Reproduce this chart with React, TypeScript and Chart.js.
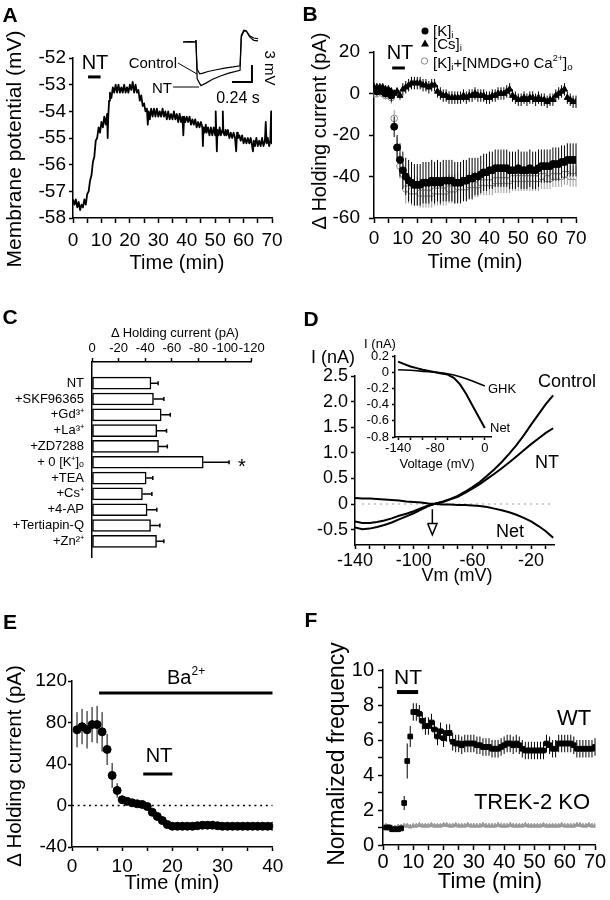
import React, { useEffect, useRef } from "react";
import { Chart, registerables } from "chart.js";

Chart.register(...registerables);

const FONT = "'Liberation Sans', Arial, Helvetica, sans-serif";
Chart.defaults.font.family = FONT;
Chart.defaults.color = "#000";

// ================= DATA =================
// Panel A: membrane potential trace [min, mV]
const aTrace: number[][] = [
  [0,-57.3],[0.5,-57.5],[1,-57.3],[1.5,-57.6],[2,-57.4],[2.5,-57.7],[3,-57.5],[3.5,-57.6],[4,-57.3],[4.5,-57.5],
  [5,-57.1],[5.5,-57.0],[6,-56.6],[6.5,-56.4],[7,-55.9],[7.5,-55.7],[8,-55.1],[8.5,-55.0],[9,-54.6],[9.5,-54.8],
  [10,-54.4],[10.5,-54.6],[11,-54.2],[11.5,-54.5],[12,-54.1],[12.2,-55.0],[12.4,-54.2],[12.7,-53.6],[13,-53.3],[13.5,-53.5],
  [14,-53.1],[14.5,-53.3],[15,-53.0],[15.5,-53.3],[16,-53.0],[16.5,-53.3],[17,-53.1],[17.5,-53.3],[18,-53.0],[18.5,-53.3],
  [19,-53.1],[19.5,-53.3],[20,-53.0],[20.5,-53.2],[21,-52.9],[21.5,-53.3],[22,-53.0],[22.5,-53.3],[23,-53.2],[23.5,-53.6],
  [24,-53.4],[24.5,-53.8],[25,-53.7],[25.5,-54.0],[26,-53.9],[26.3,-54.5],[26.6,-54.0],[27,-54.3],[27.5,-53.9],[28,-54.2],
  [28.5,-53.9],[29,-54.2],[29.5,-53.9],[30,-54.2],[30.5,-54.0],[31,-54.2],[31.5,-53.9],[32,-54.2],[32.5,-54.0],[33,-54.3],
  [33.5,-54.0],[34,-54.3],[34.5,-54.1],[35,-54.3],[35.5,-54.0],[36,-54.3],[36.5,-54.1],[37,-54.4],[37.5,-54.1],[38,-54.4],
  [38.5,-54.2],[38.8,-54.9],[39.1,-54.2],[39.5,-54.4],[40,-54.2],[40.5,-54.4],[41,-54.2],[41.5,-54.5],[42,-54.3],[42.5,-54.5],
  [43,-54.3],[43.5,-54.6],[44,-54.4],[44.5,-54.6],[45,-54.4],[45.5,-54.6],[45.7,-55.3],[45.9,-54.6],[46.3,-54.8],[46.7,-54.5],
  [47,-54.8],[47.5,-54.6],[48,-54.9],[48.5,-54.6],[49,-54.9],[49.5,-54.6],[50,-54.9],[50.2,-54.0],[50.4,-54.8],[50.6,-55.5],
  [50.8,-54.7],[51.2,-54.9],[51.6,-54.6],[52,-54.9],[52.5,-54.7],[52.7,-54.0],[52.9,-54.8],[53.3,-54.9],[53.7,-54.7],[54,-54.9],
  [54.5,-54.7],[55,-55.0],[55.5,-54.8],[56,-55.0],[56.5,-54.8],[57,-55.0],[57.4,-55.5],[57.7,-54.8],[58,-55.0],[58.5,-54.9],
  [59,-55.1],[59.5,-54.9],[60,-55.2],[60.5,-55.0],[61,-55.2],[61.5,-55.0],[62,-55.2],[62.5,-55.0],[63,-55.3],[63.3,-55.5],
  [63.6,-55.1],[64,-55.3],[64.5,-55.0],[65,-55.3],[65.5,-55.1],[66,-55.3],[66.5,-55.0],[67,-55.3],[67.5,-55.1],[67.8,-54.4],
  [68.1,-55.2],[68.5,-55.0],[69,-55.3],[69.4,-55.1],[69.7,-54.0],[69.9,-55.2],[70,-55.1],
];
const aNtBar: number[][] = [[5.3, -52.71], [9.7, -52.71]];
const aYTicks = [-58, -57, -56, -55, -54, -53, -52];
const time70Ticks = [0, 5, 10, 15, 20, 25, 30, 35, 40, 45, 50, 55, 60, 65, 70];
const time70Labels = [0, 10, 20, 30, 40, 50, 60, 70];
// Panel A inset traces [s, mV]
const aInsetControl: number[][] = [
  [0,0],[0.08,0.05],[0.145,0],[0.155,0.35],[0.17,-4.8],[0.2,-5.6],[0.24,-5.5],[0.3,-5.2],[0.4,-4.9],[0.5,-4.6],
  [0.6,-4.4],[0.685,-4.2],[0.7,1.2],[0.73,2.1],[0.76,2.0],[0.8,1.1],[0.85,0.7],[0.9,0.6],
];
const aInsetNT: number[][] = [
  [0,0],[0.08,0.05],[0.145,0],[0.155,0.35],[0.17,-6.5],[0.215,-7.7],[0.27,-7.3],[0.35,-6.6],[0.45,-6.0],[0.55,-5.5],
  [0.685,-5.0],[0.7,0.9],[0.73,1.9],[0.76,1.9],[0.8,0.9],[0.85,0.3],[0.9,0.2],
];
const aScaleBar: number[][] = [[0.588, -7.05], [0.828, -7.05], [0.828, -4.05]]; // 0.24 s, 3 mV

// Panel B
const bTime = [0,1,2,3,4,5,6,7,8,9,10,11,12,13,14,15,16,17,18,19,20,21,22,23,24,25,26,27,28,29,30,31,32,33,34,35,36,37,38,39,40,41,42,43,44,45,46,47,48,49,50,51,52,53,54,55,56,57,58,59,60,61,62,63,64,65,66,67,68,69,70];
const bK = [2,1,2,1,0,1,-1,-16,-26,-32,-37,-40,-42,-43,-44,-44,-44,-43,-43,-43,-42,-43,-42,-43,-42,-42,-42,-42,-43,-43,-43,-42,-42,-41,-41,-40,-40,-39,-38,-38,-37,-37,-36,-36,-36,-36,-36,-37,-37,-37,-36,-37,-37,-37,-36,-37,-37,-36,-35,-35,-35,-35,-34,-34,-34,-33,-33,-32,-32,-32,-32];
const bKErr = [2,2,2,2,2,2,3,5,6,8,9,9,10,10,10,10,10,10,10,10,10,10,10,10,10,10,10,10,10,10,10,10,10,10,10,9,9,9,9,9,9,9,9,9,9,9,9,9,9,9,9,9,9,9,9,9,9,9,8,8,8,8,8,8,8,8,8,8,8,8,8];
const bNmdg = [0,0,1,0,-1,0,-2,-12,-26,-35,-39,-46,-46,-47,-47,-47,-48,-48,-48,-48,-48,-47,-47,-47,-47,-47,-46,-46,-46,-45,-45,-45,-45,-44,-44,-44,-44,-43,-43,-43,-43,-43,-42,-42,-42,-42,-42,-42,-41,-41,-41,-41,-41,-41,-41,-41,-41,-41,-40,-40,-41,-41,-40,-40,-40,-40,-39,-39,-40,-40,-40];
const bNmdgErr = [2,2,2,2,2,2,3,4,5,6,7,7,7,7,7,7,7,7,7,7,7,7,7,7,7,7,7,7,7,7,6,6,6,6,6,6,6,6,6,6,6,6,6,6,6,6,6,6,6,6,6,6,6,6,6,6,6,6,6,6,5,5,5,5,5,5,5,5,5,5,5];
const bCs = [3,3,3,3,2,2,1,0,1,-1,2,3,4,5,5,5,5,4,4,3,4,4,1,0,-1,-1,-2,-2,-2,-2,-2,-1,-2,-1,-1,0,-1,-1,-1,-2,-2,-1,-1,0,0,0,1,2,-1,-2,-3,-3,-2,-3,-2,-2,-3,-2,-3,-3,-4,-3,-3,-1,0,1,2,-2,-3,-4,-4];
const bCsErr = [2,2,2,2,2,2,2,2,2,2,3,3,3,3,3,3,3,3,3,3,3,3,3,3,3,3,3,3,3,3,3,3,3,3,3,3,3,3,3,3,3,3,3,3,3,3,3,3,3,3,3,3,3,3,3,3,3,3,3,3,3,3,3,3,3,3,3,3,3,3,3];
const bNtBar: number[][] = [[6.3, 12.3], [10.7, 12.3]];
const bYTicks = [-60, -40, -20, 0, 20];

// Panel C
const cCats = ["NT", "+SKF96365", "+Gd³⁺", "+La³⁺", "+ZD7288", "+ 0 [K⁺]ₒ", "+TEA", "+Cs⁺", "+4-AP", "+Tertiapin-Q", "+Zn²⁺"];
const cVals = [-44.3, -46.2, -52, -48.7, -50, -83.6, -40.7, -37.9, -41.4, -44, -48.5];
const cErrs = [5.4, 7.8, 6.8, 7.3, 6.6, 19.4, 5, 7.1, 7.3, 7, 5.5];
const cTicks = [0, -20, -40, -60, -80, -100, -120];

// Panel D
const dV = [-140,-135,-130,-125,-120,-115,-110,-105,-100,-95,-90,-85,-80,-75,-70,-65,-60,-55,-50,-45,-40,-35,-30,-25,-20,-15,-10,-5];
const dControl = [-0.46,-0.49,-0.48,-0.45,-0.41,-0.36,-0.3,-0.24,-0.18,-0.11,-0.04,0.01,0.05,0.1,0.16,0.24,0.33,0.43,0.55,0.68,0.82,0.98,1.15,1.34,1.55,1.75,1.95,2.12];
const dNT = [-0.34,-0.37,-0.37,-0.35,-0.32,-0.28,-0.23,-0.19,-0.14,-0.08,-0.03,0.01,0.04,0.09,0.14,0.22,0.3,0.39,0.49,0.59,0.7,0.81,0.93,1.05,1.17,1.28,1.39,1.48];
const dNet = [0.12,0.11,0.11,0.1,0.09,0.08,0.07,0.05,0.04,0.03,0.01,0,-0.01,-0.01,-0.02,-0.02,-0.03,-0.04,-0.06,-0.09,-0.12,-0.16,-0.21,-0.27,-0.34,-0.43,-0.53,-0.66];
const dZero: number[][] = [[-135, 0], [-5, 0]];
const dArrowShaft: number[][] = [[-87.3, -0.1], [-87.3, -0.38]];
const dArrowHead: number[][] = [[-90.5, -0.38], [-84.1, -0.38], [-87.3, -0.6], [-90.5, -0.38]];
const dXTicks = [-140,-130,-120,-110,-100,-90,-80,-70,-60,-50,-40,-30,-20,-10];
const dXLabels = [-140, -100, -60, -20];
const dYTicks = [-0.5, 0, 0.5, 1, 1.5, 2, 2.5];
// Panel D inset
const diV = [-140,-130,-120,-110,-100,-90,-80,-70,-60,-50,-40,-30,-20,-10,0];
const diNet = [0.13,0.1,0.07,0.05,0.03,0.015,0,-0.015,-0.03,-0.07,-0.15,-0.27,-0.41,-0.55,-0.69];
const diGHK = [0.03,0.028,0.025,0.018,0.01,0.005,0,-0.008,-0.02,-0.035,-0.055,-0.08,-0.11,-0.14,-0.17];
const diXTicks = [-140, -120, -100, -80, -60, -40, -20, 0];
const diXLabels = [-140, -80, 0];
const diYTicks = [-0.8, -0.6, -0.4, -0.2, 0, 0.2];

// Panel E
const eTime = [1,2,3,4,5,6,7,8,9,10,11,12,13,14,15,16,17,18,19,20,21,22,23,24,25,26,27,28,29,30,31,32,33,34,35,36,37,38,39,40];
const eVal = [73,76,73,78,78,71,54,29,14.5,5.5,4,2.6,1.6,1,-1,-6.5,-10.6,-14.5,-18.4,-20,-20,-20,-20,-20,-19.5,-19,-19,-19,-19.5,-20,-20,-20,-20,-20,-20,-20,-20,-20,-20,-20];
const eErr = [17,17,18,17,18,19,15,12,7,4,3,2,2,2,2,2,2,2,2,2,2,2,2,2,2,2,2,2,2,2,2,2,2,2,2,2,2,2,2,2];
const eZero: number[][] = [[0, 0], [40, 0]];
const eBaBar: number[][] = [[5.4, 108.4], [40, 108.4]];
const eNtBar: number[][] = [[14.2, 30.4], [20, 30.4]];
const eXTicks = [0, 5, 10, 15, 20, 25, 30, 35, 40];
const eXLabels = [0, 10, 20, 30, 40];
const eYTicks = [-40, 0, 40, 80, 120];

// Panel F
const fTime = [1,2,3,4,5,6,7,8,9,10,11,12,13,14,15,16,17,18,19,20,21,22,23,24,25,26,27,28,29,30,31,32,33,34,35,36,37,38,39,40,41,42,43,44,45,46,47,48,49,50,51,52,53,54,55,56,57,58,59,60,61,62,63,64,65,66,67,68,69,70];
const fWT = [1.0,1.0,0.9,0.9,0.9,0.95,2.4,4.8,6.2,7.6,7.6,7.5,7.1,6.8,6.8,7.0,6.6,6.2,6.5,6.1,6.4,6.4,5.9,5.8,5.8,5.7,5.8,5.8,5.8,5.8,5.7,5.7,5.6,5.6,5.6,5.5,5.5,5.5,5.6,5.7,5.8,5.8,5.7,5.8,5.7,5.5,5.4,5.4,5.4,5.4,5.4,5.4,5.4,5.8,5.7,5.5,5.5,5.8,5.8,5.8,5.8,5.8,5.7,5.5,5.5,5.5,5.5,5.5,5.5,5.6];
const fWTErr = [0.1,0.1,0.1,0.1,0.1,0.1,0.4,1.0,0.6,0.5,0.5,0.5,0.5,0.5,0.5,0.5,0.5,0.5,0.5,0.5,0.5,0.5,0.5,0.5,0.5,0.5,0.5,0.5,0.5,0.5,0.5,0.5,0.5,0.5,0.5,0.5,0.5,0.5,0.5,0.5,0.5,0.5,0.5,0.5,0.5,0.5,0.5,0.5,0.5,0.5,0.5,0.5,0.5,0.5,0.5,0.5,0.5,0.5,0.5,0.5,0.5,0.5,0.5,0.5,0.5,0.5,0.5,0.5,0.5,0.5];
const fKO = [1.1,1.05,1.0,1.0,1.05,1.05,1.1,1.1,1.05,1.1,1.1,1.15,1.1,1.1,1.1,1.15,1.1,1.1,1.1,1.15,1.15,1.1,1.1,1.15,1.1,1.1,1.1,1.15,1.1,1.1,1.1,1.1,1.15,1.1,1.1,1.1,1.1,1.15,1.1,1.1,1.1,1.15,1.1,1.1,1.1,1.1,1.15,1.1,1.1,1.1,1.1,1.1,1.15,1.1,1.1,1.1,1.1,1.1,1.15,1.1,1.1,1.1,1.1,1.15,1.15,1.1,1.1,1.15,1.1,1.1];
const fKOErr = [0.12,0.12,0.12,0.12,0.12,0.12,0.12,0.12,0.12,0.12,0.12,0.12,0.12,0.12,0.12,0.12,0.12,0.12,0.12,0.12,0.12,0.12,0.12,0.12,0.12,0.12,0.12,0.12,0.12,0.12,0.12,0.12,0.12,0.12,0.12,0.12,0.12,0.12,0.12,0.12,0.12,0.12,0.12,0.12,0.12,0.12,0.12,0.12,0.12,0.12,0.12,0.12,0.12,0.12,0.12,0.12,0.12,0.12,0.12,0.12,0.12,0.12,0.12,0.12,0.12,0.12,0.12,0.12,0.12,0.12];
const fNtBar: number[][] = [[4.6, 8.74], [11.6, 8.74]];
const fYTicks = [0, 1, 2, 3, 4, 5, 6, 7, 8, 9, 10];
const fYLabels = [0, 2, 4, 6, 8, 10];

// ================= HELPERS =================
const xy = (xs: number[], ys: number[]) => xs.map((x, i) => ({ x, y: ys[i] }));
const pairs = (ps: number[][]) => ps.map(([x, y]) => ({ x, y }));

const errorBars = {
  id: "errorBars",
  beforeDatasetDraw(chart: any, args: any) {
    const ds = chart.data.datasets[args.index];
    if (!ds.errors) return;
    const xs = chart.scales[args.meta.xAxisID];
    const ys = chart.scales[args.meta.yAxisID];
    const ctx = chart.ctx;
    const cap = ds.errCap || 0;
    ctx.save();
    ctx.strokeStyle = ds.errColor || "#000";
    ctx.lineWidth = ds.errWidth || 1;
    ctx.beginPath();
    ds.data.forEach((p: any, i: number) => {
      const e = ds.errors[i];
      if (e == null) return;
      if (chart.options.indexAxis === "y") {
        const y = ys.getPixelForValue(p.y);
        const x0 = xs.getPixelForValue(p.x);
        const x1 = xs.getPixelForValue(p.x - e);
        ctx.moveTo(x0, y);
        ctx.lineTo(x1, y);
        if (cap) { ctx.moveTo(x1, y - cap / 2); ctx.lineTo(x1, y + cap / 2); }
      } else {
        const x = xs.getPixelForValue(p.x);
        const y0 = ys.getPixelForValue(p.y - e);
        const y1 = ys.getPixelForValue(p.y + e);
        ctx.moveTo(x, y0);
        ctx.lineTo(x, y1);
        if (cap) {
          ctx.moveTo(x - cap / 2, y0); ctx.lineTo(x + cap / 2, y0);
          ctx.moveTo(x - cap / 2, y1); ctx.lineTo(x + cap / 2, y1);
        }
      }
    });
    ctx.stroke();
    ctx.restore();
  },
};

type AxisOpt = {
  pos: "left" | "bottom" | "top";
  min: number; max: number; ticks: number[]; labels?: number[] | null;
  fmt?: (v: number) => string; size: number; fit: number; tickLen?: number; pad?: number; reverse?: boolean;
};
function axis(o: AxisOpt) {
  const vert = o.pos === "left";
  return {
    type: "linear", position: o.pos, min: o.min, max: o.max, reverse: !!o.reverse,
    afterBuildTicks: (s: any) => { s.ticks = o.ticks.map((v) => ({ value: v })); },
    afterFit: (s: any) => { if (vert) s.width = o.fit; else s.height = o.fit; },
    ticks: {
      autoSkip: false, maxRotation: 0, minRotation: 0, color: "#000", padding: o.pad ?? 3,
      font: { family: FONT, size: o.size },
      callback: (v: number) => {
        const show = !o.labels || o.labels.some((l) => Math.abs(l - v) < 1e-9);
        if (!show) return "";
        return o.fmt ? o.fmt(v) : String(v);
      },
    },
    grid: { display: true, drawOnChartArea: false, drawTicks: true, tickLength: o.tickLen ?? 5, tickWidth: 1.5, tickColor: "#000" },
    border: { display: true, color: "#000", width: 1.5 },
  };
}
const hidden = (min: number, max: number) => ({ type: "linear", display: false, min, max });

function opts(p: number[], scales: any, extra: any = {}) {
  return {
    animation: false, responsive: false, maintainAspectRatio: false, devicePixelRatio: 1, events: [],
    layout: { padding: { left: p[0], top: p[1], right: p[2], bottom: p[3] } },
    plugins: { legend: { display: false }, tooltip: { enabled: false }, title: { display: false } },
    scales, ...extra,
  };
}
function pts(data: any[], o: any = {}) {
  return {
    data, showLine: false, pointRadius: 3.5, pointStyle: "circle",
    pointBackgroundColor: "#000", pointBorderColor: "#000", pointBorderWidth: 1,
    backgroundColor: "#000", borderColor: "#000", ...o,
  };
}
function ln(data: any[], o: any = {}) {
  return { data, showLine: true, pointRadius: 0, borderColor: "#000", borderWidth: 1.5, tension: 0, fill: false, ...o };
}
const fmt1 = (v: number) => (Math.abs(v) < 1e-9 ? "0" : v.toFixed(1));

// ================= CHART CONFIGS =================
const cfgA = () => ({
  type: "scatter",
  data: { datasets: [ln(pairs(aTrace), { borderWidth: 1.8, borderJoinStyle: "round" }), ln(pairs(aNtBar), { borderWidth: 3 })] },
  options: opts([0, 58, 33, 52], {
    x: axis({ pos: "bottom", min: 0, max: 70, ticks: time70Ticks, labels: time70Labels, size: 19, fit: 30, tickLen: 5, pad: 6 }),
    y: axis({ pos: "left", min: -58, max: -52, ticks: aYTicks, size: 19, fit: 73, tickLen: 4, pad: 3 }),
  }),
});
const cfgAInset = () => ({
  type: "scatter",
  data: { datasets: [
    ln(pairs(aInsetControl), { borderWidth: 1.2, clip: false }),
    ln(pairs(aInsetNT), { borderWidth: 1.2, clip: false }),
    ln(pairs(aScaleBar), { borderWidth: 2, clip: false }),
  ] },
  options: opts([0, 0, 0, 0], { x: hidden(-0.18, 1.0445), y: hidden(-10.23, 3.0) }),
});
const cfgB = () => ({
  type: "scatter",
  data: { datasets: [
    pts(xy(bTime, bCs), { pointStyle: "triangle", pointRadius: 3.5, errors: bCsErr, errColor: "#000" }),
    pts(xy(bTime, bK), { pointRadius: 3.5, errors: bKErr, errColor: "#000" }),
    pts(xy(bTime, bNmdg), { pointRadius: 3.3, pointBackgroundColor: "#fff", pointBorderColor: "#8a8a8a", errors: bNmdgErr, errColor: "#9a9a9a" }),
    ln(pairs(bNtBar), { borderWidth: 3 }),
  ] },
  options: opts([0, 52, 34, 52], {
    x: axis({ pos: "bottom", min: 0, max: 70, ticks: time70Ticks, labels: time70Labels, size: 19, fit: 30, tickLen: 5, pad: 4 }),
    y: axis({ pos: "left", min: -60, max: 20, ticks: bYTicks, size: 19, fit: 69, tickLen: 5, pad: 9 }),
  }),
  plugins: [errorBars],
});
const cfgC = () => ({
  type: "bar",
  data: { datasets: [{
    data: cVals.map((v, i) => ({ x: v, y: i })),
    backgroundColor: "#fff", borderColor: "#000", borderWidth: 1.5, borderSkipped: false, barThickness: 12,
    errors: cErrs, errCap: 4, errWidth: 1.5,
  }] },
  options: opts([0, 32, 53.3, 43], {
    x: axis({ pos: "top", min: -120, max: 0, reverse: true, ticks: cTicks, size: 13, fit: 30, tickLen: 4, pad: 2 }),
    y: {
      type: "linear", position: "left", min: -0.78, max: 10.43, reverse: true,
      afterBuildTicks: (s: any) => { s.ticks = cCats.map((_, i) => ({ value: i })); },
      afterFit: (s: any) => { s.width = 92; },
      ticks: { autoSkip: false, color: "#000", padding: 8, font: { family: FONT, size: 13 }, callback: (v: number) => cCats[v] ?? "" },
      grid: { display: false, drawTicks: false },
      border: { display: true, color: "#000", width: 1.5 },
    },
  }, { indexAxis: "y" }),
  plugins: [errorBars],
});
const cfgD = () => ({
  type: "scatter",
  data: { datasets: [
    ln(xy(dV, dControl), { borderWidth: 2 }),
    ln(xy(dV, dNT), { borderWidth: 2 }),
    ln(xy(dV, dNet), { borderWidth: 2 }),
    ln(pairs(dZero), { borderWidth: 1.5, borderColor: "#a8a8a8", borderDash: [1.5, 4.5] }),
    ln(pairs(dArrowShaft), { borderWidth: 1.5 }),
    ln(pairs(dArrowHead), { borderWidth: 1.5, borderJoinStyle: "miter" }),
  ] },
  options: opts([0, 76, 55.4, 25], {
    x: axis({ pos: "bottom", min: -140, max: -4, ticks: dXTicks, labels: dXLabels, size: 18, fit: 30, tickLen: 4, pad: 1 }),
    y: axis({ pos: "left", min: -0.8, max: 2.5, ticks: dYTicks, fmt: fmt1, size: 18, fit: 50, tickLen: 4, pad: 3 }),
  }),
});
const cfgDInset = () => ({
  type: "scatter",
  data: { datasets: [ln(xy(diV, diNet), { borderWidth: 2 }), ln(xy(diV, diGHK), { borderWidth: 1.6 })] },
  options: opts([0, 21, 14, 8], {
    x: axis({ pos: "bottom", min: -145, max: 10, ticks: diXTicks, labels: diXLabels, size: 13, fit: 20, tickLen: 3, pad: 1 }),
    y: axis({ pos: "left", min: -0.8, max: 0.2, ticks: diYTicks, fmt: fmt1, size: 13, fit: 40, tickLen: 3, pad: 3 }),
  }),
});
const cfgE = () => ({
  type: "scatter",
  data: { datasets: [
    pts(xy(eTime, eVal), { pointRadius: 4, errors: eErr }),
    ln(pairs(eZero), { borderWidth: 1.5, borderDash: [2, 3.7] }),
    ln(pairs(eBaBar), { borderWidth: 3 }),
    ln(pairs(eNtBar), { borderWidth: 3 }),
  ] },
  options: opts([0, 81, 32.3, 23], {
    x: axis({ pos: "bottom", min: 0, max: 40, ticks: eXTicks, labels: eXLabels, size: 19, fit: 30, tickLen: 4, pad: 4 }),
    y: axis({ pos: "left", min: -40, max: 120, ticks: eYTicks, size: 19, fit: 72, tickLen: 4, pad: 1 }),
  }),
  plugins: [errorBars],
});
const cfgF = () => ({
  type: "scatter",
  data: { datasets: [
    pts(xy(fTime, fWT), { pointStyle: "rect", pointRadius: 3.3, errors: fWTErr }),
    pts(xy(fTime, fKO), { showLine: true, borderColor: "#555", borderWidth: 0.8, pointStyle: "triangle", pointRadius: 2.6, pointBackgroundColor: "#9a9a9a", pointBorderColor: "#9a9a9a", errors: fKOErr, errColor: "#9a9a9a" }),
    ln(pairs(fNtBar), { borderWidth: 4 }),
  ] },
  options: opts([0, 70, 15, 25], {
    x: axis({ pos: "bottom", min: 0, max: 70, ticks: time70Ticks, labels: time70Labels, size: 20, fit: 30, tickLen: 5, pad: 0 }),
    y: axis({ pos: "left", min: 0, max: 10, ticks: fYTicks, labels: fYLabels, size: 20, fit: 78, tickLen: 5, pad: 4 }),
  }),
  plugins: [errorBars],
});

// ================= COMPONENTS =================
function ChartBox({ x, y, w, h, make }: { x: number; y: number; w: number; h: number; make: () => any }) {
  const ref = useRef<HTMLCanvasElement>(null);
  useEffect(() => {
    const chart = new Chart(ref.current as HTMLCanvasElement, make());
    return () => chart.destroy();
  }, []);
  return <canvas ref={ref} width={w} height={h} style={{ position: "absolute", left: x, top: y, width: w, height: h }} />;
}

function Txt({ x, y, s = 20, a = "c", b = false, r = 0, children }: any) {
  const tx = a === "c" ? "-50%" : a === "r" ? "-100%" : "0";
  return (
    <div style={{
      position: "absolute", left: x, top: y, fontSize: s, fontWeight: b ? "bold" : "normal", lineHeight: 1,
      whiteSpace: "nowrap", transform: `translate(${tx},-50%)` + (r ? ` rotate(${r}deg)` : ""),
    }}>{children}</div>
  );
}
const Sup = ({ children }: any) => <span style={{ fontSize: "0.6em", verticalAlign: "0.75em", lineHeight: 0 }}>{children}</span>;
const Sub = ({ children }: any) => <span style={{ fontSize: "0.65em", verticalAlign: "-0.3em", lineHeight: 0 }}>{children}</span>;

export default function App() {
  return (
    <div style={{ position: "absolute", left: 0, top: 0, width: 610, height: 900, background: "#fff", color: "#000", fontFamily: FONT, overflow: "hidden" }}>
      <ChartBox x={0} y={0} w={305} h={300} make={cfgA} />
      <ChartBox x={168} y={25} w={102} h={75} make={cfgAInset} />
      <ChartBox x={305} y={0} w={305} h={300} make={cfgB} />
      <ChartBox x={0} y={300} w={305} h={300} make={cfgC} />
      <ChartBox x={305} y={300} w={305} h={300} make={cfgD} />
      <ChartBox x={355} y={335} w={150} h={130} make={cfgDInset} />
      <ChartBox x={0} y={600} w={305} h={300} make={cfgE} />
      <ChartBox x={305} y={600} w={305} h={300} make={cfgF} />

      <svg width={610} height={900} style={{ position: "absolute", left: 0, top: 0 }}>
        <line x1={178} y1={63} x2={197} y2={74} stroke="#000" strokeWidth={1} />
        <line x1={173} y1={87} x2={199} y2={87} stroke="#000" strokeWidth={1} />
        <circle cx={425} cy={31} r={3.5} fill="#000" />
        <polygon points="425,39.5 429,46.5 421,46.5" fill="#000" />
        <circle cx={424.5} cy={61} r={3.2} fill="#fff" stroke="#8a8a8a" strokeWidth={1} />
      </svg>

      {/* Panel A */}
      <Txt x={10} y={14} s={21} b>A</Txt>
      <Txt x={95} y={62} s={20}>NT</Txt>
      <Txt x={177} y={62} s={15} a="r">Control</Txt>
      <Txt x={172} y={87} s={15} a="r">NT</Txt>
      <Txt x={270} y={68} s={15} r={90}>3 mV</Txt>
      <Txt x={238} y={98} s={16}>0.24 s</Txt>
      <Txt x={12.5} y={149} s={21} r={-90}>Membrane potential (mV)</Txt>
      <Txt x={177} y={262} s={20}>Time (min)</Txt>

      {/* Panel B */}
      <Txt x={310} y={13} s={21} b>B</Txt>
      <Txt x={400} y={52} s={20}>NT</Txt>
      <Txt x={433} y={30} s={15} a="l">[K]<Sub>i</Sub></Txt>
      <Txt x={433} y={43} s={15} a="l">[Cs]<Sub>i</Sub></Txt>
      <Txt x={433} y={62} s={15} a="l">[K]<Sub>i</Sub>+[NMDG+0 Ca<Sup>2+</Sup>]<Sub>o</Sub></Txt>
      <Txt x={319} y={131} s={20} r={-90}>Δ Holding current (pA)</Txt>
      <Txt x={475} y={261} s={20}>Time (min)</Txt>

      {/* Panel C */}
      <Txt x={10} y={316} s={21} b>C</Txt>
      <Txt x={175} y={332} s={13}>Δ Holding current (pA)</Txt>
      <Txt x={242} y={466} s={20}>*</Txt>

      {/* Panel D */}
      <Txt x={311} y={318} s={21} b>D</Txt>
      <Txt x={333} y={357} s={18}>I (nA)</Txt>
      <Txt x={567} y={381} s={18}>Control</Txt>
      <Txt x={547} y={462} s={18}>NT</Txt>
      <Txt x={510} y={531} s={18}>Net</Txt>
      <Txt x={457} y={575} s={18}>Vm (mV)</Txt>
      <Txt x={380} y={343} s={13}>I (nA)</Txt>
      <Txt x={488} y={388} s={13} a="l">GHK</Txt>
      <Txt x={490} y={427} s={13} a="l">Net</Txt>
      <Txt x={437} y={463} s={13}>Voltage (mV)</Txt>

      {/* Panel E */}
      <Txt x={10} y={621} s={21} b>E</Txt>
      <Txt x={167} y={677} s={20} a="l">Ba<Sup>2+</Sup></Txt>
      <Txt x={159} y={755} s={20}>NT</Txt>
      <Txt x={14} y={766} s={20.5} r={-90}>Δ Holding current (pA)</Txt>
      <Txt x={172} y={882} s={20}>Time (min)</Txt>

      {/* Panel F */}
      <Txt x={311} y={619} s={21} b>F</Txt>
      <Txt x={408} y={676} s={21}>NT</Txt>
      <Txt x={574} y={718} s={22}>WT</Txt>
      <Txt x={532} y={802} s={22}>TREK-2 KO</Txt>
      <Txt x={336} y={754} s={23} r={-90}>Normalized frequency</Txt>
      <Txt x={490} y={881} s={22}>Time (min)</Txt>
    </div>
  );
}
